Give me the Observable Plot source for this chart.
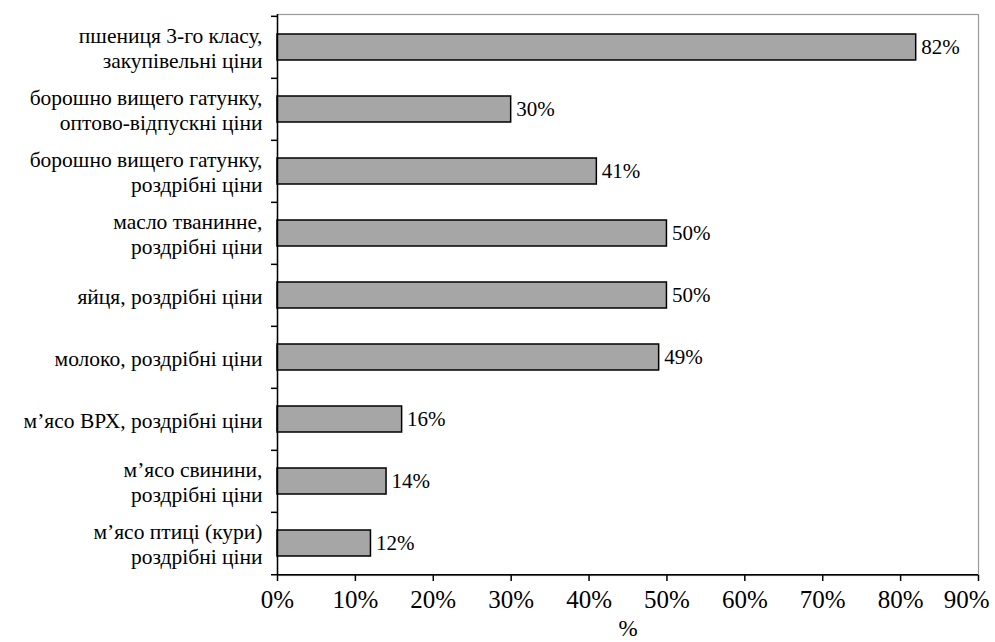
<!DOCTYPE html>
<html>
<head>
<meta charset="utf-8">
<script src="https://cdn.jsdelivr.net/npm/d3@7"></script>
<script src="https://cdn.jsdelivr.net/npm/@observablehq/plot@0.6"></script>
<style>
  html, body { margin: 0; padding: 0; background: #fff; }
  svg { display: block; }
</style>
</head>
<body>
<div id="chart"></div>
<script>
const categories = [
  "пшениця 3-го класу,\nзакупівельні ціни",
  "борошно вищего гатунку,\nоптово-відпускні ціни",
  "борошно вищего гатунку,\nроздрібні ціни",
  "масло тванинне,\nроздрібні ціни",
  "яйця, роздрібні ціни",
  "молоко, роздрібні ціни",
  "м’ясо ВРХ, роздрібні ціни",
  "м’ясо свинини,\nроздрібні ціни",
  "м’ясо птиці (кури)\nроздрібні ціни"
];
const values = [82, 30, 41, 50, 50, 49, 16, 14, 12];
const xTicks = [0, 10, 20, 30, 40, 50, 60, 70, 80, 90];
const xLabel = "%";

const data = categories.map((c, i) => ({cat: c, value: values[i]}));
const font = "'Liberation Serif', 'DejaVu Serif', serif";
const fmt = d => d + "%";

const W = 995, H = 642, mt = 14, mb = 67;
const step = (H - mt - mb) / categories.length;
const lastTick = xTicks[xTicks.length - 1];

const chart = Plot.plot({
  width: W,
  height: H,
  marginLeft: 277,
  marginRight: 17,
  marginTop: mt,
  marginBottom: mb,
  style: {fontFamily: font, fontSize: "21px", color: "#000", background: "#fff"},
  x: {domain: [0, 90], label: null},
  y: {domain: categories, padding: 0, label: null},
  marks: [
    Plot.frame({stroke: "#999", strokeWidth: 1.2}),
    Plot.barX(data, {
      x: "value", y: "cat", fill: "#a6a6a6", stroke: "#000", strokeWidth: 1.5,
      insetTop: 18, insetBottom: 18
    }),
    Plot.text(data, {
      x: "value", y: "cat", text: d => fmt(d.value),
      textAnchor: "start", dx: 5, fontSize: 21, fill: "#000"
    }),
    Plot.text(data, {
      y: "cat", text: "cat", frameAnchor: "left", textAnchor: "end",
      dx: -15, fontSize: 21.5, lineHeight: 1.17, fill: "#000"
    }),
    Plot.ruleX([0], {stroke: "#000", strokeWidth: 1.5}),
    Plot.ruleY([categories[categories.length - 1]], {
      y: d => d, dy: step / 2, x1: 0, x2: 90, stroke: "#000", strokeWidth: 1.5, insetLeft: -6
    }),
    Plot.axisY({tickFormat: () => "", tickSize: 6, dy: -step / 2, stroke: "#000", strokeWidth: 1.5, label: null}),
    Plot.axisX({
      ticks: xTicks, tickFormat: () => "", tickSize: 6, label: null,
      stroke: "#000", strokeWidth: 1.5
    }),
    Plot.text(xTicks.filter(d => d !== lastTick), {
      x: d => d, text: fmt, frameAnchor: "bottom", lineAnchor: "top",
      dy: 15, fontSize: 25, fill: "#000"
    }),
    Plot.text([lastTick], {
      x: d => d, text: fmt, frameAnchor: "bottom", lineAnchor: "top",
      textAnchor: "end", dx: 11, dy: 15, fontSize: 25, fill: "#000"
    }),
    Plot.text([xLabel], {frameAnchor: "bottom", dy: 60, fontSize: 23, fill: "#000"})
  ]
});
document.getElementById("chart").appendChild(chart);
</script>
</body>
</html>
